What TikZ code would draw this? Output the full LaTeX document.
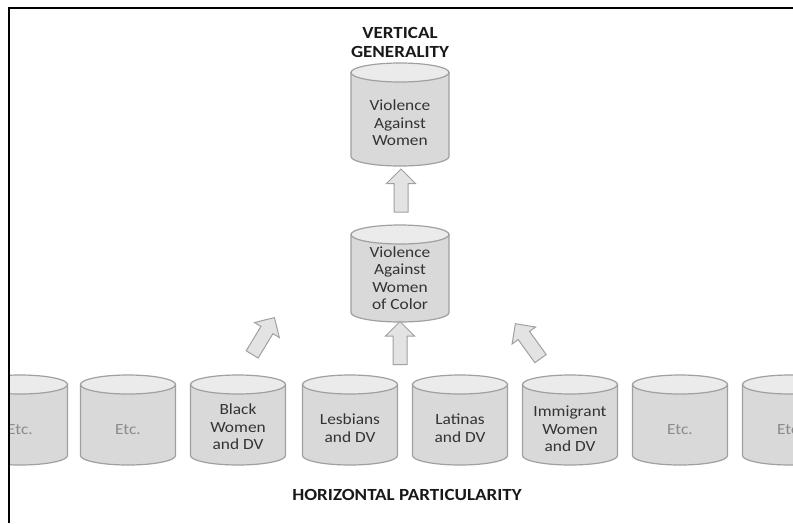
\documentclass[tikz,border=0pt]{standalone}
\usepackage{fontspec}
\setmainfont{Carlito}[FakeStretch=1.12]
\usetikzlibrary{shapes.arrows,calc}
\definecolor{canfill}{HTML}{D9D9D9}
\definecolor{cantopfill}{HTML}{EBEBEB}
\definecolor{canline}{HTML}{A0A0A0}
\definecolor{labgray}{HTML}{333333}
\definecolor{etcgray}{HTML}{8A8A8A}
\definecolor{arrowfill}{HTML}{E3E3E3}
\newcommand\drawcan[5]{%
  \filldraw[canbody] (#1-#4,#2+#5) -- (#1-#4,#3-#5)
     arc[start angle=180,end angle=0,x radius=#4,y radius=#5]
     -- (#1+#4,#2+#5) -- cycle;
  \filldraw[cantop] (#1,#2+#5) ellipse[x radius=#4,y radius=#5];
}
\tikzset{
  canbody/.style={fill=canfill,draw=canline,line width=1.2pt},
  cantop/.style={fill=cantopfill,draw=canline,line width=1.2pt},
  cantext/.style={text=labgray,font=\fontsize{15.5}{17.5}\selectfont,align=center,inner sep=0pt},
  etclabel/.style={cantext,text=etcgray},
  titletext/.style={text=black!90,font=\bfseries\fontsize{17}{19}\selectfont,align=center,inner sep=0pt},
  blockarrow/.style={single arrow,draw=canline,fill=arrowfill,line width=1pt,
    inner xsep=0pt,inner ysep=6.5pt,single arrow head extend=7.5pt,
    single arrow head indent=0pt,minimum height=43pt},
  frameline/.style={line width=2pt,black}
}
\begin{document}
\begin{tikzpicture}[x=1pt,y=-1pt]
\useasboundingbox (0,0) rectangle (793,523);
\begin{scope}
\clip (10,8) rectangle (793,523);
% titles
\node[titletext] (vg) at (400,42) {VERTICAL\\GENERALITY};
\node[titletext] (hp) at (407,495) {HORIZONTAL PARTICULARITY};
% top cylinder
\drawcan{400}{63}{166}{49}{9.5}
\node[cantext] (vaw) at (400,123) {Violence\\Against\\Women};
% middle cylinder
\drawcan{400}{225}{322}{49}{9.5}
\node[cantext] (vawc) at (400,278) {Violence\\Against\\Women\\of Color};
% bottom row
\drawcan{20}{375}{465}{47.5}{9.5}
\node[etclabel] (e1) at (20,430) {Etc.};
\drawcan{128}{375}{465}{47.5}{9.5}
\node[etclabel] (e2) at (128,430) {Etc.};
\drawcan{238}{375}{465}{47.5}{9.5}
\node[cantext] (bw) at (238,427) {Black\\Women\\and DV};
\drawcan{350}{375}{465}{47.5}{9.5}
\node[cantext] (les) at (350,428) {Lesbians\\and DV};
\drawcan{460}{375}{465}{47.5}{9.5}
\node[cantext] (lat) at (460,428) {Latinas\\and DV};
\drawcan{570}{375}{465}{47.5}{9.5}
\node[cantext] (imm) at (570,429) {Immigrant\\Women\\and DV};
\drawcan{680}{375}{465}{47.5}{9.5}
\node[etclabel] (e3) at (680,430) {Etc.};
\drawcan{790}{375}{465}{47.5}{9.5}
\node[etclabel] (e4) at (790,430) {Etc.};
% arrows
\coordinate (u1) at (401,215); \coordinate (u2) at (401,173);
\coordinate (c1) at (400,368); \coordinate (c2) at (400,325);
\coordinate (l1) at (250,358); \coordinate (l2) at (273,320);
\coordinate (r1) at (543,362); \coordinate (r2) at (517,326);
\node[blockarrow,rotate=90] (arrU) at ($(u1)!0.5!(u2)$) {};
\node[blockarrow,rotate=90] (arrC) at ($(c1)!0.5!(c2)$) {};
\node[blockarrow,rotate=58.8] (arrL) at ($(l1)!0.5!(l2)$) {};
\node[blockarrow,rotate=125.8] (arrR) at ($(r1)!0.5!(r2)$) {};
\end{scope}
% frame
\draw[frameline] (793,7.5) -- (9,7.5) -- (9,523);
\end{tikzpicture}
\end{document}
